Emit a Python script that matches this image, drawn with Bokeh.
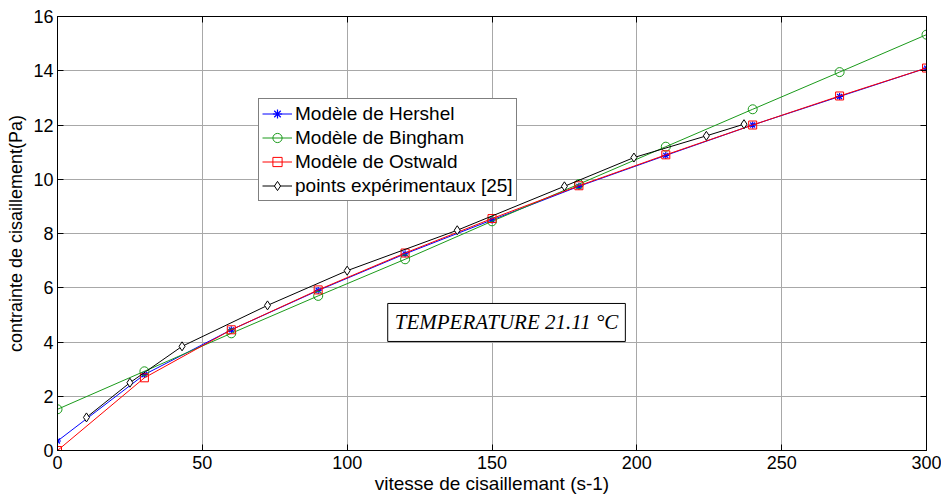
from bokeh.plotting import figure
from bokeh.models import Legend, LegendItem, Label, LinearAxis, Range1d, FixedTicker
from bokeh.embed import file_html
from bokeh.resources import INLINE

# Shear rate (s-1) at which the three models are evaluated
rate_model = [0, 30, 60, 90, 120, 150, 180, 210, 240, 270, 300]
# Shear stress (Pa) for each rheological model
stress_hershel = [0.35, 2.80, 4.45, 5.90, 7.25, 8.50, 9.74, 10.88, 12.00, 13.05, 14.10]
stress_bingham = [1.52, 2.92, 4.32, 5.70, 7.05, 8.45, 9.82, 11.20, 12.58, 13.95, 15.33]
stress_ostwald = [0.00, 2.68, 4.45, 5.92, 7.28, 8.55, 9.76, 10.90, 12.00, 13.07, 14.10]

# Experimental measurements [25]
rate_exp = [10, 25, 43, 72.5, 100, 138, 175, 199, 224, 237]
stress_exp = [1.22, 2.50, 3.84, 5.35, 6.63, 8.12, 9.74, 10.80, 11.60, 12.03]

x_ticks = [0, 50, 100, 150, 200, 250, 300]
y_ticks = [0, 2, 4, 6, 8, 10, 12, 14, 16]

FONT = "Liberation Sans"

p = figure(width=941, height=497, output_backend="svg", toolbar_location=None,
           x_range=Range1d(0, 300), y_range=Range1d(0, 16),
           min_border_left=57, min_border_right=15, min_border_top=16,
           min_border_bottom=47, background_fill_color="white",
           border_fill_color="white", outline_line_color="black",
           outline_line_width=1)

for ax in (p.xaxis[0], p.yaxis[0]):
    ax.major_tick_in = 6
    ax.major_tick_out = 0
    ax.minor_tick_in = 0
    ax.minor_tick_out = 0
    ax.axis_line_color = "black"
    ax.major_tick_line_color = "black"
    ax.major_label_text_font = FONT
    ax.major_label_text_font_size = "18px"
    ax.major_label_text_color = "black"
    ax.axis_label_text_font = FONT
    ax.axis_label_text_font_style = "normal"
    ax.axis_label_text_color = "black"

p.xaxis.ticker = FixedTicker(ticks=x_ticks)
p.yaxis.ticker = FixedTicker(ticks=y_ticks)
p.xaxis.axis_label = "vitesse de cisaillemant (s-1)"
p.yaxis.axis_label = "contrainte de cisaillement(Pa)"
p.xaxis.axis_label_text_font_size = "19px"
p.yaxis.axis_label_text_font_size = "18px"
p.xaxis.major_label_standoff = 5
p.yaxis.major_label_standoff = 4
p.xaxis.axis_label_standoff = 1
p.yaxis.axis_label_standoff = 4

# tick marks on the top and right edges of the frame
for side, ticks in (("above", x_ticks), ("right", y_ticks)):
    extra = LinearAxis(ticker=FixedTicker(ticks=ticks), major_tick_in=6,
                       major_tick_out=0, minor_tick_in=0, minor_tick_out=0,
                       major_label_text_font_size="0px", major_label_standoff=0,
                       axis_line_color="black", major_tick_line_color="black")
    p.add_layout(extra, side)

p.xgrid.ticker = FixedTicker(ticks=x_ticks)
p.ygrid.ticker = FixedTicker(ticks=y_ticks)
p.grid.grid_line_color = "#a8a8a8"
p.grid.grid_line_width = 1

BLUE = "#0000ff"
GREEN = "#1a9a1a"
RED = "#ff0000"
BLACK = "#000000"

l_h = p.line(rate_model, stress_hershel, line_color=BLUE, line_width=1)
m_h = p.scatter(rate_model, stress_hershel, marker="asterisk", size=7,
                line_color=BLUE, line_width=1.2)

l_b = p.line(rate_model, stress_bingham, line_color=GREEN, line_width=1)
m_b = p.scatter(rate_model, stress_bingham, marker="circle", size=9,
                line_color=GREEN, fill_color=None, line_width=1)

l_o = p.line(rate_model, stress_ostwald, line_color=RED, line_width=1)
m_o = p.scatter(rate_model, stress_ostwald, marker="square", size=8,
                line_color=RED, fill_color=None, line_width=1)

l_e = p.line(rate_exp, stress_exp, line_color=BLACK, line_width=1)
m_e = p.scatter(rate_exp, stress_exp, marker="diamond", size=9,
                line_color=BLACK, fill_color="white", line_width=1)

legend = Legend(items=[
    LegendItem(label="Modèle de Hershel", renderers=[l_h, m_h]),
    LegendItem(label="Modèle de Bingham", renderers=[l_b, m_b]),
    LegendItem(label="Modèle de Ostwald", renderers=[l_o, m_o]),
    LegendItem(label="points expérimentaux [25]", renderers=[l_e, m_e]),
], location=(201, 249), orientation="vertical",
    label_text_font=FONT, label_text_font_size="19px", label_text_color="black",
    glyph_width=30, glyph_height=23, label_height=23, label_standoff=3,
    spacing=1, padding=3, margin=0,
    border_line_color="black", border_line_width=1,
    background_fill_color="white", background_fill_alpha=1.0)
p.add_layout(legend)

p.add_layout(Label(x=114, y=4.02, text="TEMPERATURE 21.11 °C",
                   text_font="Liberation Serif", text_font_style="italic",
                   text_font_size="21px", text_color="black",
                   border_line_color="black", border_line_width=1,
                   background_fill_color="white", padding=7))

open("out.html", "w").write(file_html(p, INLINE))
